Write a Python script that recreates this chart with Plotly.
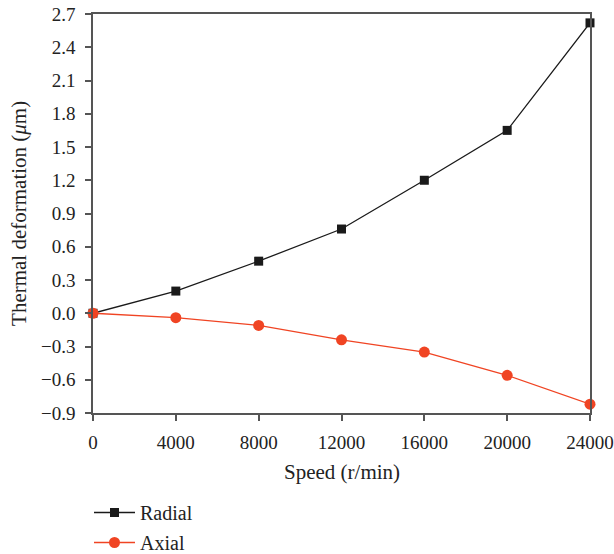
import plotly.graph_objects as go

speed = [0, 4000, 8000, 12000, 16000, 20000, 24000]
radial = [0.0, 0.20, 0.47, 0.76, 1.20, 1.65, 2.62]
axial = [0.0, -0.04, -0.11, -0.24, -0.35, -0.56, -0.82]
x_ticks = [0, 4000, 8000, 12000, 16000, 20000, 24000]
y_ticks = [-0.9, -0.6, -0.3, 0.0, 0.3, 0.6, 0.9, 1.2, 1.5, 1.8, 2.1, 2.4, 2.7]
x_title = "Speed (r/min)"
y_title = "Thermal deformation (<i>μ</i>m)"

FONT = "Liberation Serif"
AX = "#555555"

fig = go.Figure()
fig.add_trace(go.Scatter(
    x=speed, y=radial, name="Radial", mode="lines+markers",
    line=dict(color="#1a1a1a", width=1.3),
    marker=dict(symbol="square", size=9, color="#1a1a1a"),
    legendgroup="a", cliponaxis=False,
))
fig.add_trace(go.Scatter(
    x=speed, y=axial, name="Axial", mode="lines+markers",
    line=dict(color="#f04423", width=1.3),
    marker=dict(symbol="circle", size=11, color="#f04423"),
    legendgroup="b", cliponaxis=False,
))

fig.update_layout(
    width=614, height=554,
    margin=dict(l=93, r=24, t=14, b=141, pad=0, autoexpand=False),
    paper_bgcolor="white", plot_bgcolor="white",
    font=dict(family=FONT, size=19, color="#222222"),
    showlegend=True,
    legend=dict(
        xref="container", yref="container",
        x=89 / 614, y=(554 - 493) / 554, xanchor="left", yanchor="top",
        orientation="v", traceorder="grouped", tracegroupgap=1,
        itemwidth=41,
        font=dict(family=FONT, size=20, color="#222222"),
        bgcolor="rgba(0,0,0,0)",
    ),
    xaxis=dict(
        range=[0, 24000], tickvals=x_ticks,
        ticktext=[str(v) for v in x_ticks],
        showline=True, linecolor=AX, linewidth=1.5, mirror=True,
        ticks="outside", ticklen=6, tickcolor=AX, tickwidth=1.5,
        ticklabelstandoff=5,
        showgrid=False, zeroline=False, automargin=False,
        tickfont=dict(size=19),
    ),
    yaxis=dict(
        range=[-0.9, 2.7], tickvals=y_ticks,
        tickformat=".1f",
        showline=True, linecolor=AX, linewidth=1.5, mirror=True,
        ticks="outside", ticklen=6, tickcolor=AX, tickwidth=1.5,
        ticklabelstandoff=6,
        showgrid=False, zeroline=False, automargin=False,
        tickfont=dict(size=19),
    ),
    annotations=[
        dict(text=x_title, xref="paper", yref="paper", x=0.5, y=-0.149,
             xanchor="center", yanchor="middle", showarrow=False,
             font=dict(family=FONT, size=21, color="#222222")),
        dict(text=y_title, xref="paper", yref="paper", x=-0.150, y=0.5,
             xanchor="center", yanchor="middle", showarrow=False, textangle=-90,
             font=dict(family=FONT, size=21, color="#222222")),
    ],
)

fig.write_html("out.html")
